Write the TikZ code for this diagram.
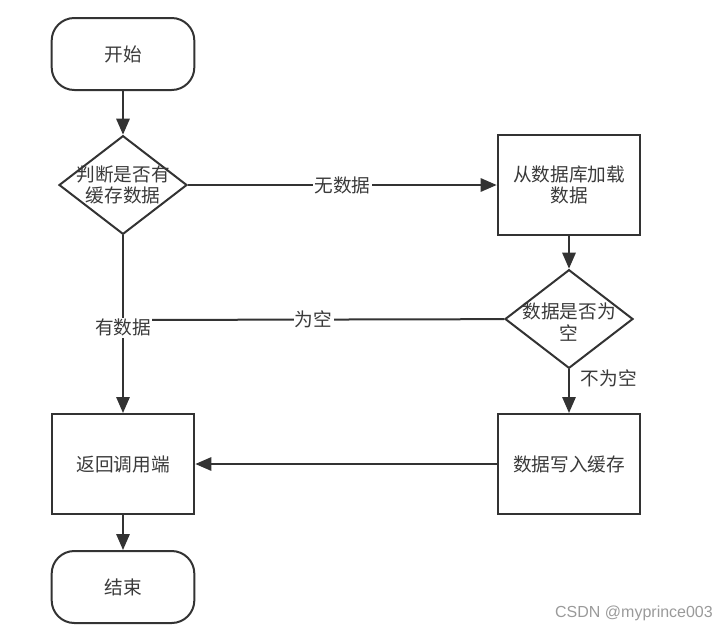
\documentclass[tikz,border=0pt]{standalone}
\usepackage{fontspec}
\newfontfamily\cjk{Noto Sans CJK SC}
\newfontfamily\wmfont{Liberation Sans}
\usetikzlibrary{shapes.geometric,arrows.meta}
\definecolor{linegray}{HTML}{333333}
\definecolor{textgray}{HTML}{3A3A3A}
\definecolor{markgray}{HTML}{9A9A9A}
\begin{document}
\begin{tikzpicture}[x=0.75pt,y=-0.75pt,
     line width=1.5pt,color=linegray,text=textgray,
     font=\cjk\fontsize{14pt}{16pt}\selectfont,
     term node/.style={rectangle,rounded corners=17pt,draw,minimum width=107pt,minimum height=54pt},
     box node/.style={rectangle,draw,align=center,minimum width=107pt,minimum height=75pt},
     test node/.style={diamond,draw,inner sep=0pt,minimum width=96pt,minimum height=74pt},
     tag/.style={fill=white,inner sep=1pt},
     >={Triangle[length=12pt,width=10pt]}]

      \useasboundingbox (0,0) rectangle (727,632);

      \node[term node] (0) at (123,54) {开始};
      \node[test node] (1) at (123,185) {};
      \node[align=center] (1t) at (1) {判断是否有\\缓存数据};
      \node[box node] (2) at (569,185) {从数据库加载\\数据};
      \node[test node] (3) at (569,319) {};
      \node[align=center] (3t) at (569,322) {数据是否为\\空};
      \node[box node] (4) at (123,464) {返回调用端};
      \node[box node] (5) at (569,464) {数据写入缓存};
      \node[term node] (6) at (123,587) {结束};
      \coordinate (j) at (123,320);

      \foreach \s/\t in {0/1, 2/3, 5/4, 4/6} {
       \path[draw,->] (\s) edge (\t);}

      \path[draw,->] (1) edge node[tag] {无数据} (2);
      \draw (3) -- node[tag] {为空} (j);
      \draw[->] (1) -- node[tag,pos=0.52] {有数据} (4);
      \draw[->] (3) -- node[pos=0.2,right=8pt,inner sep=0pt] {不为空} (5);

      \node[text=markgray,font=\wmfont\fontsize{12pt}{14pt}\selectfont] (wm) at (634,613) {CSDN @myprince003};
    \end{tikzpicture}
\end{document}
